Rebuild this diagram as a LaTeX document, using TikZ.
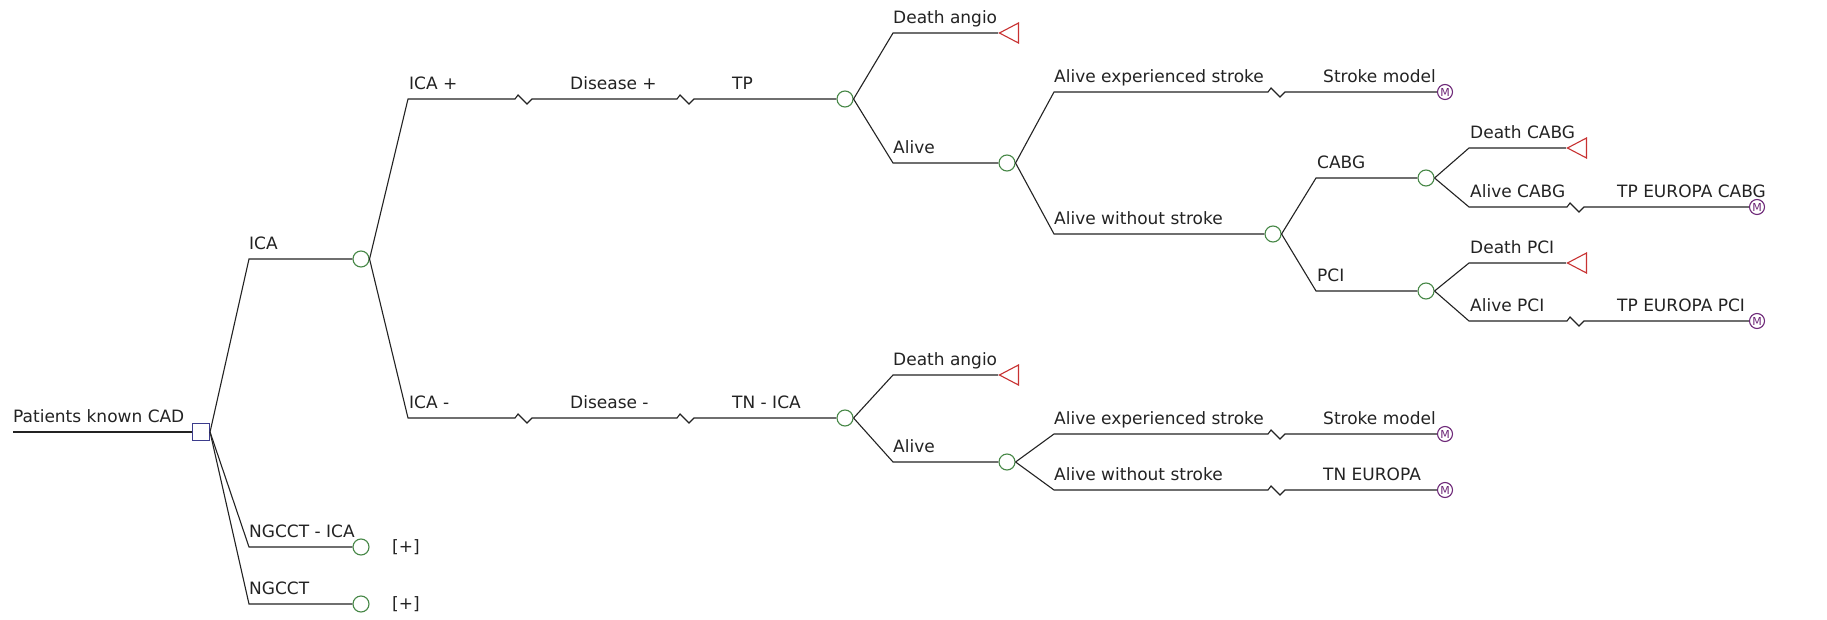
\documentclass[tikz,border=0pt]{standalone}
\usepackage{fontspec}
\setmainfont{DejaVu Sans}
\usetikzlibrary{shapes.geometric}
\definecolor{chgreen}{RGB}{70,135,70}
\definecolor{decblue}{RGB}{60,60,140}
\definecolor{termred}{RGB}{200,50,50}
\definecolor{markpur}{RGB}{110,40,120}
\definecolor{linec}{RGB}{35,35,35}
\begin{document}
\begin{tikzpicture}[x=1pt,y=-1pt,
  br/.style={draw=linec,line width=1.1pt,line join=miter},
  chance/.style={circle,draw=chgreen,line width=1.1pt,minimum size=16pt,inner sep=0pt},
  decision/.style={rectangle,draw=decblue,line width=1.1pt,minimum size=17pt,inner sep=0pt},
  term/.style={isosceles triangle,shape border rotate=180,isosceles triangle stretches,draw=termred,line width=1.1pt,minimum height=19pt,minimum width=20pt,inner sep=0pt,anchor=apex},
  markov/.style={circle,draw=markpur,line width=1.1pt,minimum size=15pt,inner sep=0pt,text=markpur,font=\fontsize{11}{11}\selectfont},
  lbl/.style={anchor=base west,inner sep=0pt,font=\fontsize{17}{20}\selectfont,text=linec},
  zz/.style={insert path={-- ++(3,-4) -- ++(9,9) -- ++(5,-5)}},
]
\useasboundingbox[fill=white] (0,0) rectangle (1827,620);

% ---- nodes
\coordinate (start) at (13,432);
\node[decision] (dec) at (201,432) {};
\node[chance] (ica) at (361,259) {};
\node[chance] (ngi) at (361,547) {};
\node[chance] (ngc) at (361,604) {};
\node[chance] (tp) at (845,99) {};
\node[chance] (tn) at (845,418) {};
\node[term] (da1) at (998,33) {};
\node[chance] (al1) at (1007,163) {};
\node[markov] (sm1) at (1445,92) {M};
\node[chance] (aws) at (1273,234) {};
\node[chance] (cabg) at (1426,178) {};
\node[chance] (pci) at (1426,291) {};
\node[term] (dc) at (1566,148) {};
\node[markov] (tpc) at (1757,207) {M};
\node[term] (dp) at (1566,263) {};
\node[markov] (tpp) at (1757,321) {M};
\node[term] (da2) at (998,375) {};
\node[chance] (al2) at (1007,462) {};
\node[markov] (sm2) at (1445,434) {M};
\node[markov] (tne) at (1445,490) {M};

% ---- elbow / zigzag coordinates
\coordinate (e-ica) at (249,259);
\coordinate (e-ngi) at (249,547);
\coordinate (e-ngc) at (249,604);
\coordinate (e-icap) at (408,99);
\coordinate (z-icap1) at (515,99);
\coordinate (z-icap2) at (677,99);
\coordinate (e-icam) at (408,418);
\coordinate (z-icam1) at (515,418);
\coordinate (z-icam2) at (677,418);
\coordinate (e-da1) at (893,33);
\coordinate (e-al1) at (893,163);
\coordinate (e-aes1) at (1054,92);
\coordinate (z-aes1) at (1268,92);
\coordinate (e-aws) at (1054,234);
\coordinate (e-cabg) at (1316,178);
\coordinate (e-pci) at (1316,291);
\coordinate (e-dc) at (1469,148);
\coordinate (e-ac) at (1469,207);
\coordinate (z-ac) at (1567,207);
\coordinate (e-dp) at (1469,263);
\coordinate (e-ap) at (1469,321);
\coordinate (z-ap) at (1567,321);
\coordinate (e-da2) at (893,375);
\coordinate (e-al2) at (893,462);
\coordinate (e-aes2) at (1054,434);
\coordinate (z-aes2) at (1268,434);
\coordinate (e-aws2) at (1054,490);
\coordinate (z-aws2) at (1268,490);

% ---- connectors
\draw[br] (start) -- (dec.west);
\draw[br] (dec.east) -- (e-ica) -- (ica.west);
\draw[br] (dec.east) -- (e-ngi) -- (ngi.west);
\draw[br] (dec.east) -- (e-ngc) -- (ngc.west);
\draw[br] (ica.east) -- (e-icap) -- (z-icap1) [zz] -- (z-icap2) [zz] -- (tp.west);
\draw[br] (ica.east) -- (e-icam) -- (z-icam1) [zz] -- (z-icam2) [zz] -- (tn.west);
\draw[br] (tp.east) -- (e-da1) -- (da1.apex);
\draw[br] (tp.east) -- (e-al1) -- (al1.west);
\draw[br] (al1.east) -- (e-aes1) -- (z-aes1) [zz] -- (sm1.west);
\draw[br] (al1.east) -- (e-aws) -- (aws.west);
\draw[br] (aws.east) -- (e-cabg) -- (cabg.west);
\draw[br] (aws.east) -- (e-pci) -- (pci.west);
\draw[br] (cabg.east) -- (e-dc) -- (dc.apex);
\draw[br] (cabg.east) -- (e-ac) -- (z-ac) [zz] -- (tpc.west);
\draw[br] (pci.east) -- (e-dp) -- (dp.apex);
\draw[br] (pci.east) -- (e-ap) -- (z-ap) [zz] -- (tpp.west);
\draw[br] (tn.east) -- (e-da2) -- (da2.apex);
\draw[br] (tn.east) -- (e-al2) -- (al2.west);
\draw[br] (al2.east) -- (e-aes2) -- (z-aes2) [zz] -- (sm2.west);
\draw[br] (al2.east) -- (e-aws2) -- (z-aws2) [zz] -- (tne.west);

% ---- labels
\node[lbl] (t-pat) at (13,422) {Patients known CAD};
\node[lbl] (t-ica) at (249,249.5) {ICA};
\node[lbl] (t-ngi) at (249,537.5) {NGCCT - ICA};
\node[lbl] (t-ngc) at (249,594.5) {NGCCT};
\node[lbl,anchor=west] (t-p1) at (392,547) {[+]};
\node[lbl,anchor=west] (t-p2) at (392,604) {[+]};
\node[lbl] (t-icap) at (409,89.5) {ICA +};
\node[lbl] (t-disp) at (570,89.5) {Disease +};
\node[lbl] (t-tp) at (732,89.5) {TP};
\node[lbl] (t-icam) at (409,408.5) {ICA -};
\node[lbl] (t-dism) at (570,408.5) {Disease -};
\node[lbl] (t-tn) at (732,408.5) {TN - ICA};
\node[lbl] (t-da1) at (893,23.5) {Death angio};
\node[lbl] (t-al1) at (893,153.5) {Alive};
\node[lbl] (t-aes1) at (1054,82.5) {Alive experienced stroke};
\node[lbl] (t-sm1) at (1323,82.5) {Stroke model};
\node[lbl] (t-aws1) at (1054,224.5) {Alive without stroke};
\node[lbl] (t-cabg) at (1317,168.5) {CABG};
\node[lbl] (t-pci) at (1317,281.5) {PCI};
\node[lbl] (t-dc) at (1470,138.5) {Death CABG};
\node[lbl] (t-ac) at (1470,197.5) {Alive CABG};
\node[lbl] (t-tpc) at (1617,197.5) {TP EUROPA CABG};
\node[lbl] (t-dp) at (1470,253.5) {Death PCI};
\node[lbl] (t-ap) at (1470,311.5) {Alive PCI};
\node[lbl] (t-tpp) at (1617,311.5) {TP EUROPA PCI};
\node[lbl] (t-da2) at (893,365.5) {Death angio};
\node[lbl] (t-al2) at (893,452.5) {Alive};
\node[lbl] (t-aes2) at (1054,424.5) {Alive experienced stroke};
\node[lbl] (t-sm2) at (1323,424.5) {Stroke model};
\node[lbl] (t-aws2) at (1054,480.5) {Alive without stroke};
\node[lbl] (t-tne) at (1323,480.5) {TN EUROPA};
\end{tikzpicture}
\end{document}
